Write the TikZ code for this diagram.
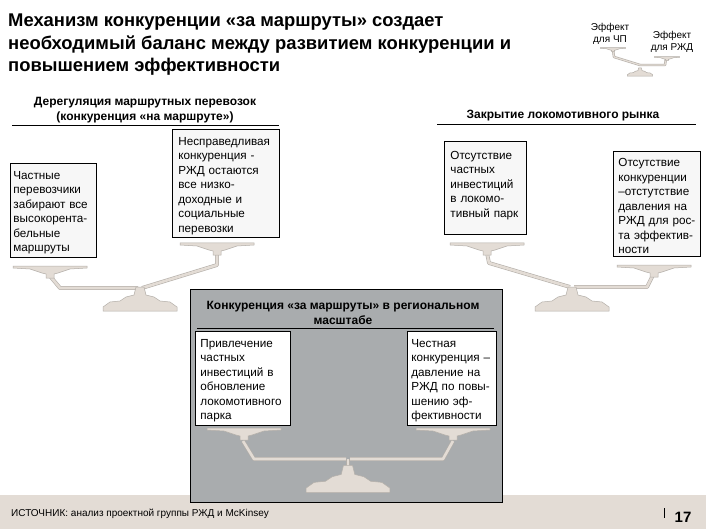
\documentclass[tikz,border=0pt]{standalone}
\usepackage{fontspec}
\setmainfont{Liberation Sans}
\definecolor{tanfill}{HTML}{E3DCD5}
\definecolor{tanedge}{HTML}{B4AFA9}
\definecolor{panelgray}{HTML}{A9ACAE}
\definecolor{boxgray}{HTML}{F7F7F7}
\tikzset{
  textbox/.style={draw=black,line width=.8pt,fill=boxgray,anchor=north west,inner xsep=5pt,inner ysep=0pt,align=left,font=\fontsize{11.7}{14.5}\selectfont,execute at begin node={\rule{0pt}{13pt}}},
  headtext/.style={align=center,font=\bfseries\fontsize{12}{15.5}\selectfont},
  rulerline/.style={line width=.8pt,black},
  armline/.style={draw=tanedge,line width=.6pt,double=tanfill,double distance=2.6pt,line join=round},
  pics/pan/.style={code={
    \draw[fill=tanfill,draw=tanedge,line width=.5pt] (-37,-1)--(37,-1)--(37,1)--(20,2)--(8,6)--(4,7)--(4,11)--(-4,11)--(-4,7)--(-8,6)--(-20,2)--(-37,1)--cycle;
  }},
  pics/stand/.style={code={
    \draw[fill=tanfill,draw=tanedge,line width=.5pt] (-37,12)--(-37,8)--(-30,3)--(-20,2)--(-14,-2)--(-6,-4)--(-4,-12)--(4,-12)--(6,-4)--(14,-2)--(20,2)--(30,3)--(37,8)--(37,12)--cycle;
  }}
}
\begin{document}
\begin{tikzpicture}[x=1pt,y=-1pt]
  \useasboundingbox (0,0) rectangle (706,529);
  \fill[white] (0,0) rectangle (706,529);
  \fill[tanfill] (0,495) rectangle (706,529);

  % left scale
  \coordinate (leftPanA) at (50,267);
  \coordinate (leftPanB) at (217,244);
  \coordinate (leftPivot) at (140,299);
  \draw[armline] (50,276) -- (60,288) -- (138,288);
  \draw[armline] (142,288) -- (217,265) -- (217,253);
  \pic at (leftPanA) {pan};
  \pic at (leftPanB) {pan};
  \pic at (leftPivot) {stand};

  % right scale
  \coordinate (rightPanA) at (487,244);
  \coordinate (rightPanB) at (654,266);
  \coordinate (rightPivot) at (572,299);
  \draw[armline] (487,253) -- (489,263) -- (570,287);
  \draw[armline] (574,287) -- (647,287) -- (654,273);
  \pic at (rightPanA) {pan};
  \pic at (rightPanB) {pan};
  \pic at (rightPivot) {stand};

  % small scale
  \coordinate (smallPanA) at (613,48);
  \coordinate (smallPanB) at (667,57);
  \coordinate (smallPivot) at (640,72);
  \draw[armline,double distance=1.2pt] (613,50) -- (614,57) -- (640,65) -- (665,65) -- (666,58);
  \pic[scale=.34] at (smallPanA) {pan};
  \pic[scale=.34] at (smallPanB) {pan};
  \pic[scale=.34] at (smallPivot) {stand};

  % panel
  \node[draw=black,line width=.8pt,fill=panelgray,anchor=north west,inner sep=0pt,minimum width=312pt,minimum height=213pt] (panel) at (190,289) {};
  \coordinate (midPanA) at (244,429);
  \coordinate (midPanB) at (453,429);
  \coordinate (midPivot) at (348,479);
  \draw[armline] (243,441) -- (254,459) -- (346,459);
  \draw[armline] (350,459) -- (443,459) -- (453,441);
  \draw[armline] (348,459) -- (348,468);
  \pic at (midPanA) {pan};
  \pic at (midPanB) {pan};
  \pic[scale=1.13] at (midPivot) {stand};

  % texts
  \node[anchor=north west,inner sep=0pt,align=left,font=\bfseries\fontsize{18.4}{22.5}\selectfont] (title) at (8,14)
    {Механизм конкуренции «за маршруты» создает\\необходимый баланс между развитием конкуренции и\\повышением эффективности};
  \node[font=\fontsize{10}{12.5}\selectfont,align=center] (effectA) at (610,34) {Эффект\\для ЧП};
  \node[font=\fontsize{10}{12.5}\selectfont,align=center] (effectB) at (672,42) {Эффект\\для РЖД};

  \node[headtext] (headLeft) at (145,110) {Дерегуляция маршрутных перевозок\\(конкуренция «на маршруте»)};
  \draw[rulerline] (12,125) -- (279,125);
  \node[headtext] (headRight) at (563,116) {Закрытие локомотивного рынка};
  \draw[rulerline] (437,124) -- (696,124);
  \node[headtext] (headMid) at (343,313) {Конкуренция «за маршруты» в региональном\\масштабе};
  \draw[rulerline] (197,328) -- (494,328);

  \node[textbox,inner xsep=3pt,text width=80pt,minimum height=94pt] (boxA) at (10,163)
    {Частные\\перевозчики\\забирают все\\высокорента-\\бельные\\маршруты};
  \node[textbox,inner xsep=6pt,text width=95pt,minimum height=108pt] (boxB) at (172,129)
    {Несправедливая\\конкуренция -\\РЖД остаются\\все низко-\\доходные и\\социальные\\перевозки};
  \node[textbox,inner xsep=6pt,text width=70pt,minimum height=93pt] (boxC) at (444,141)
    {Отсутствие\\частных\\инвестиций\\в локомо-\\тивный парк\\[-2.5pt]\mbox{}};
  \node[textbox,text width=77pt,minimum height=105pt] (boxD) at (613,151)
    {Отсутствие\\конкуренции\\–отстутствие\\давления на\\РЖД для рос-\\та эффектив-\\ности};
  \node[textbox,fill=white,text width=85pt,minimum height=94pt] (boxE) at (195,331)
    {Привлечение\\частных\\инвестиций в\\обновление\\локомотивного\\парка};
  \node[textbox,fill=white,inner xsep=4pt,text width=81pt,minimum height=94pt] (boxF) at (407,331)
    {Честная\\конкуренция –\\давление на\\РЖД по повы-\\шению эф-\\фективности};

  \node[anchor=west,inner sep=0pt,font=\fontsize{10}{12}\selectfont] (source) at (11,514) {ИСТОЧНИК: анализ проектной группы РЖД и McKinsey};
  \coordinate (tickTop) at (664,508);
  \coordinate (tickEnd) at (664,518);
  \draw[line width=.6pt] (tickTop) -- (tickEnd);
  \node[font=\bfseries\fontsize{15}{18}\selectfont,inner sep=0pt] (pageno) at (683,517) {17};
\end{tikzpicture}
\end{document}
